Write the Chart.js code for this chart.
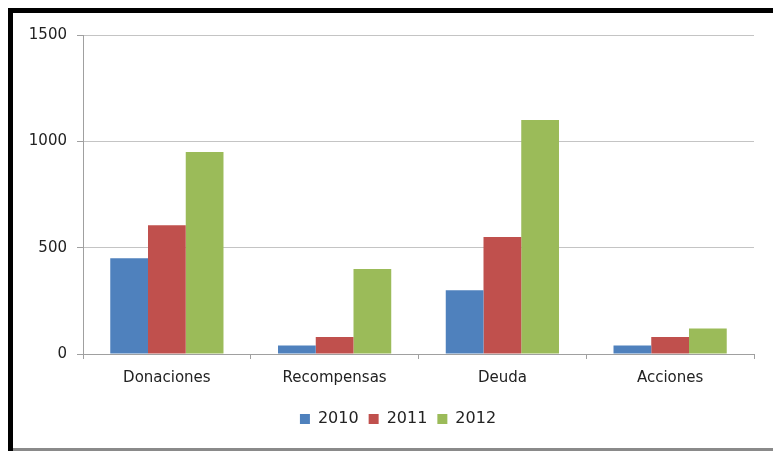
<!DOCTYPE html>
<html>
<head>
<meta charset="utf-8">
<script src="https://cdn.jsdelivr.net/npm/chart.js"></script>
<style>
  html, body { margin: 0; padding: 0; background: #fff; }
  #wrap { width: 773px; height: 451px; }
</style>
</head>
<body>
<div id="wrap"><canvas id="grafico" width="773" height="451"></canvas></div>
<script>
// datos del grafico
const categorias = ['Donaciones', 'Recompensas', 'Deuda', 'Acciones'];
const anios = ['2010', '2011', '2012'];
const valores2010 = [450, 40, 300, 40];
const valores2011 = [605, 80, 550, 80];
const valores2012 = [950, 400, 1100, 120];
const ticksY = [0, 500, 1000, 1500];

const colores = ['#4F81BD', '#C0504D', '#9BBB59'];
const fuente = 'DejaVu Sans';

// marco negro/gris alrededor del grafico
const marco = {
    id: 'marco',
    afterLayout(chart) {
        // correr la leyenda un poco a la derecha, como en el original
        chart.legend.left += 14;
        chart.legend.right += 14;
    },
    afterDraw(chart) {
        const c = chart.ctx;
        c.save();
        c.fillStyle = '#000';
        c.fillRect(8, 8, 773 - 8, 5);   // arriba
        c.fillRect(8, 8, 5, 451 - 8);   // izquierda
        c.fillStyle = '#8a8a8a';
        c.fillRect(13, 448, 773 - 13, 3); // abajo
        c.restore();
    }
};

const ctx = document.getElementById('grafico').getContext('2d');
new Chart(ctx, {
    type: 'bar',
    data: {
        labels: categorias,
        datasets: [
            { label: anios[0], data: valores2010, backgroundColor: colores[0] },
            { label: anios[1], data: valores2011, backgroundColor: colores[1] },
            { label: anios[2], data: valores2012, backgroundColor: colores[2] }
        ]
    },
    options: {
        responsive: false,
        animation: false,
        categoryPercentage: 0.675,
        barPercentage: 1,
        layout: { padding: { left: 14, top: 35, right: 19, bottom: 14 } },
        plugins: {
            legend: {
                position: 'bottom',
                labels: {
                    boxWidth: 10,
                    boxHeight: 10,
                    padding: 10,
                    color: '#222',
                    font: { family: fuente, size: 16 }
                }
            },
            tooltip: { enabled: false }
        },
        scales: {
            y: {
                min: 0,
                max: 1500,
                afterBuildTicks: (s) => { s.ticks = ticksY.map(v => ({ value: v })); },
                afterFit: (s) => { s.width = 69; },
                ticks: {
                    color: '#222', padding: 10, font: { family: fuente, size: 15 },
                    callback: (v) => String(v)
                },
                grid: { color: '#c4c4c4', tickLength: 6, tickColor: '#a0a0a0' },
                border: { color: '#a0a0a0' }
            },
            x: {
                afterFit: (s) => { s.height = 47; },
                ticks: { color: '#222', padding: 10, font: { family: fuente, size: 15 } },
                grid: { drawOnChartArea: false, offset: true, tickLength: 5, color: '#a0a0a0' },
                border: { color: '#a0a0a0' }
            }
        }
    },
    plugins: [marco]
});
</script>
</body>
</html>
